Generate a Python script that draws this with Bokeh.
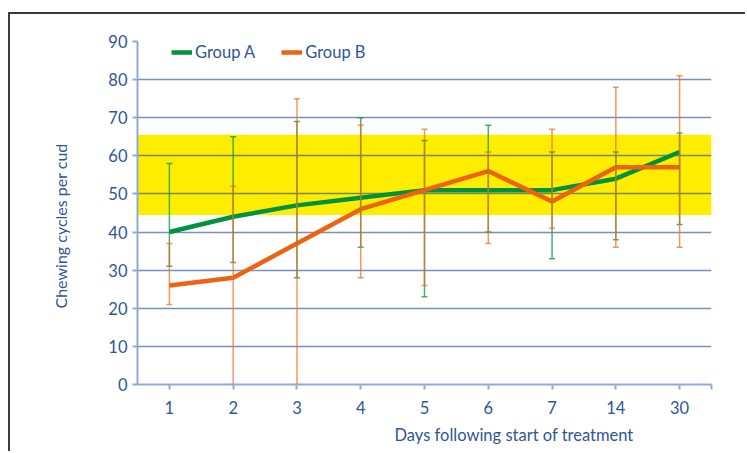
from bokeh.plotting import figure
from bokeh.models import (ColumnDataSource, Range1d, FixedTicker, Whisker, TeeHead,
                          BoxAnnotation, Legend, LegendItem, Title)
from bokeh.embed import file_html
from bokeh.resources import INLINE

days = ["1", "2", "3", "4", "5", "6", "7", "14", "30"]
a_mean = [40, 44, 47, 49, 51, 51, 51, 54, 61]
a_low = [31, 32, 28, 36, 23, 40, 33, 38, 42]
a_high = [58, 65, 69, 70, 64, 68, 61, 61, 66]
b_mean = [26, 28, 37, 46, 51, 56, 48, 57, 57]
b_low = [21, 0, 0, 28, 26, 37, 41, 36, 36]
b_high = [37, 52, 75, 68, 67, 61, 67, 78, 81]
band_low = 44.5
band_high = 65.5

pos = list(range(1, len(days) + 1))

FONT = "Lato"
FS = "16.5px"
TXT = "#2F5597"
GREEN = "#00923F"
ORANGE = "#EE6212"

p = figure(width=737, height=439, output_backend="svg", toolbar_location=None,
           x_range=Range1d(0.5, len(days) + 0.5), y_range=Range1d(0, 90),
           min_border_left=127, min_border_right=36, min_border_top=27, min_border_bottom=69)
p.styles = {"margin-top": "12px", "margin-left": "8px",
            "border-top": "2px solid #3c3c3c", "border-left": "2px solid #3c3c3c"}
p.outline_line_color = None
p.background_fill_color = "white"
p.border_fill_color = "white"

band = BoxAnnotation(bottom=band_low, top=band_high, fill_color="#FFED00", fill_alpha=1.0,
                     line_color=None, level="image")
p.add_layout(band)

# axes
p.xaxis.ticker = FixedTicker(ticks=pos + [len(days) + 0.5])
ov = {i: d for i, d in zip(pos, days)}
ov[len(days) + 0.5] = ""
p.xaxis.major_label_overrides = ov
p.yaxis.ticker = FixedTicker(ticks=list(range(0, 91, 10)))
for ax in (p.xaxis[0], p.yaxis[0]):
    ax.axis_line_color = "#8EA9DB"
    ax.axis_line_width = 2
    ax.major_tick_line_color = "#8EA9DB"
    ax.major_tick_line_width = 2
    ax.major_tick_in = 0
    ax.major_tick_out = 5
    ax.minor_tick_line_color = None
    ax.major_label_text_font = FONT
    ax.major_label_text_font_size = FS
    ax.major_label_text_color = TXT
p.xaxis.major_label_standoff = 11
p.yaxis.major_label_standoff = 5

p.xgrid.grid_line_color = None
p.ygrid.ticker = FixedTicker(ticks=list(range(10, 91, 10)))
p.ygrid.grid_line_color = "#2F5597"
p.ygrid.grid_line_width = 1.5
p.ygrid.grid_line_alpha = 0.65

# titles as axis labels
xt = Title(text="Days following start of treatment", align="left", offset=257,
           text_font=FONT, text_font_size=FS, text_font_style="normal",
           text_color=TXT, standoff=13)
p.add_layout(xt, "below")
yt = Title(text="Chewing cycles per cud", align="left", offset=76,
           text_font=FONT, text_font_size="16px", text_font_style="normal",
           text_color=TXT, standoff=71)
p.add_layout(yt, "left")

src = ColumnDataSource(dict(x=pos, a=a_mean, al=a_low, ah=a_high,
                            b=b_mean, bl=b_low, bh=b_high))

wa = Whisker(source=src, base="x", lower="al", upper="ah", line_color="#1E9E4A",
             line_width=1.5, line_alpha=0.8, level="glyph",
             upper_head=TeeHead(size=6, line_color="#1E9E4A", line_width=1.5, line_alpha=0.8),
             lower_head=TeeHead(size=6, line_color="#1E9E4A", line_width=1.5, line_alpha=0.8))
wb = Whisker(source=src, base="x", lower="bl", upper="bh", line_color="#F26B21",
             line_width=1.5, line_alpha=0.7, level="glyph",
             upper_head=TeeHead(size=6, line_color="#F26B21", line_width=1.5, line_alpha=0.7),
             lower_head=TeeHead(size=6, line_color="#F26B21", line_width=1.5, line_alpha=0.7))
p.add_layout(wa)
p.add_layout(wb)

la = p.line("x", "a", source=src, line_color=GREEN, line_width=4.5, line_join="round")
lb = p.line("x", "b", source=src, line_color=ORANGE, line_width=4.5, line_join="round")

legend = Legend(items=[LegendItem(label="Group A", renderers=[la]),
                       LegendItem(label="Group B", renderers=[lb])],
                orientation="horizontal", location=(34, 322), padding=0, margin=0,
                spacing=26, label_standoff=3, glyph_width=21, glyph_height=20,
                background_fill_alpha=0, border_line_color=None,
                label_text_font=FONT, label_text_font_size=FS, label_text_color=TXT)
p.add_layout(legend)

open("out.html", "w").write(file_html(p, INLINE))
